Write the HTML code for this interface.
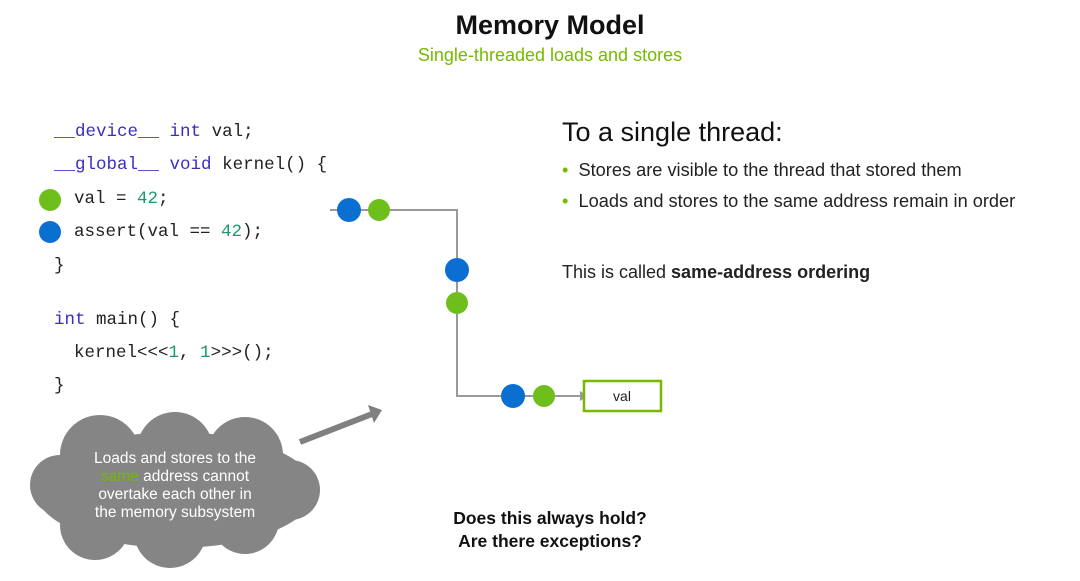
<!DOCTYPE html>
<html><head><meta charset="utf-8"><style>
body{margin:0;width:1080px;height:581px;background:#fff;position:relative;overflow:hidden;font-family:"Liberation Sans",sans-serif}
.a{position:absolute;white-space:nowrap}
.code{font-family:"Liberation Mono","DejaVu Sans Mono",monospace;font-size:17.5px;color:#222}
.k{color:#3a2ec0}.n{color:#1a9a6c}
</style></head><body>
<div class="a" style="left:0;width:1100px;text-align:center;top:10px;font-size:27px;font-weight:bold;color:#111">Memory Model</div>
<div class="a" style="left:0;width:1100px;text-align:center;top:45px;font-size:18px;color:#76b900">Single-threaded loads and stores</div>

<div class="a code" style="left:54px;top:122px"><span class="k">__device__</span> <span class="k">int</span> val;</div>
<div class="a code" style="left:54px;top:155px"><span class="k">__global__</span> <span class="k">void</span> kernel() {</div>
<div class="a code" style="left:74px;top:189px">val = <span class="n">42</span>;</div>
<div class="a code" style="left:74px;top:222px">assert(val == <span class="n">42</span>);</div>
<div class="a code" style="left:54px;top:256px">}</div>
<div class="a code" style="left:54px;top:310px"><span class="k">int</span> main() {</div>
<div class="a code" style="left:74px;top:343px">kernel&lt;&lt;&lt;<span class="n">1</span>, <span class="n">1</span>&gt;&gt;&gt;();</div>
<div class="a code" style="left:54px;top:376px">}</div>

<svg class="a" style="left:0;top:0" width="1080" height="581">
<circle cx="50" cy="200" r="11" fill="#6fbf1c"/>
<circle cx="50" cy="232" r="11" fill="#0a6fd0"/>
<polyline points="330,210 457,210 457,396 580,396" fill="none" stroke="#999" stroke-width="2"/>
<polygon points="580,391 588,396 580,401" fill="#999"/>
<circle cx="349" cy="210" r="12" fill="#0a6fd0"/>
<circle cx="379" cy="210" r="11" fill="#6fbf1c"/>
<circle cx="457" cy="270" r="12" fill="#0a6fd0"/>
<circle cx="457" cy="303" r="11" fill="#6fbf1c"/>
<circle cx="513" cy="396" r="12" fill="#0a6fd0"/>
<circle cx="544" cy="396" r="11" fill="#6fbf1c"/>
<rect x="584" y="381" width="77" height="30" fill="#fff" stroke="#76b900" stroke-width="2.5"/>
<text x="622" y="401" text-anchor="middle" font-family="Liberation Sans" font-size="14" fill="#222">val</text>
<line x1="300" y1="442" x2="372" y2="414" stroke="#808080" stroke-width="6"/>
<polygon points="368,405 382,410 374,423" fill="#808080"/>
<g fill="#858585">
<ellipse cx="175" cy="490" rx="140" ry="58"/>
<circle cx="100" cy="455" r="40"/>
<circle cx="175" cy="450" r="38"/>
<circle cx="245" cy="455" r="38"/>
<circle cx="60" cy="485" r="30"/>
<circle cx="290" cy="490" r="30"/>
<circle cx="95" cy="525" r="35"/>
<circle cx="170" cy="532" r="36"/>
<circle cx="245" cy="520" r="34"/>
</g>
</svg>
<div class="a" style="left:60px;width:230px;text-align:center;top:450px;font-size:15.5px;line-height:18px;color:#fff">Loads and stores to the<br><span style="color:#76b900">same</span> address cannot<br>overtake each other in<br>the memory subsystem</div>

<div class="a" style="left:562px;top:117px;font-size:27px;color:#111">To a single thread:</div>
<div class="a" style="left:562px;top:160px;font-size:18.2px;color:#222"><span style="color:#76b900">•</span>&nbsp; Stores are visible to the thread that stored them</div>
<div class="a" style="left:562px;top:191px;font-size:18.2px;color:#222"><span style="color:#76b900">•</span>&nbsp; Loads and stores to the same address remain in order</div>
<div class="a" style="left:562px;top:262px;font-size:18px;color:#222">This is called <b>same-address ordering</b></div>
<div class="a" style="left:400px;width:300px;text-align:center;top:507px;font-size:17.5px;font-weight:bold;line-height:23px;color:#111">Does this always hold?<br>Are there exceptions?</div>
</body></html>
